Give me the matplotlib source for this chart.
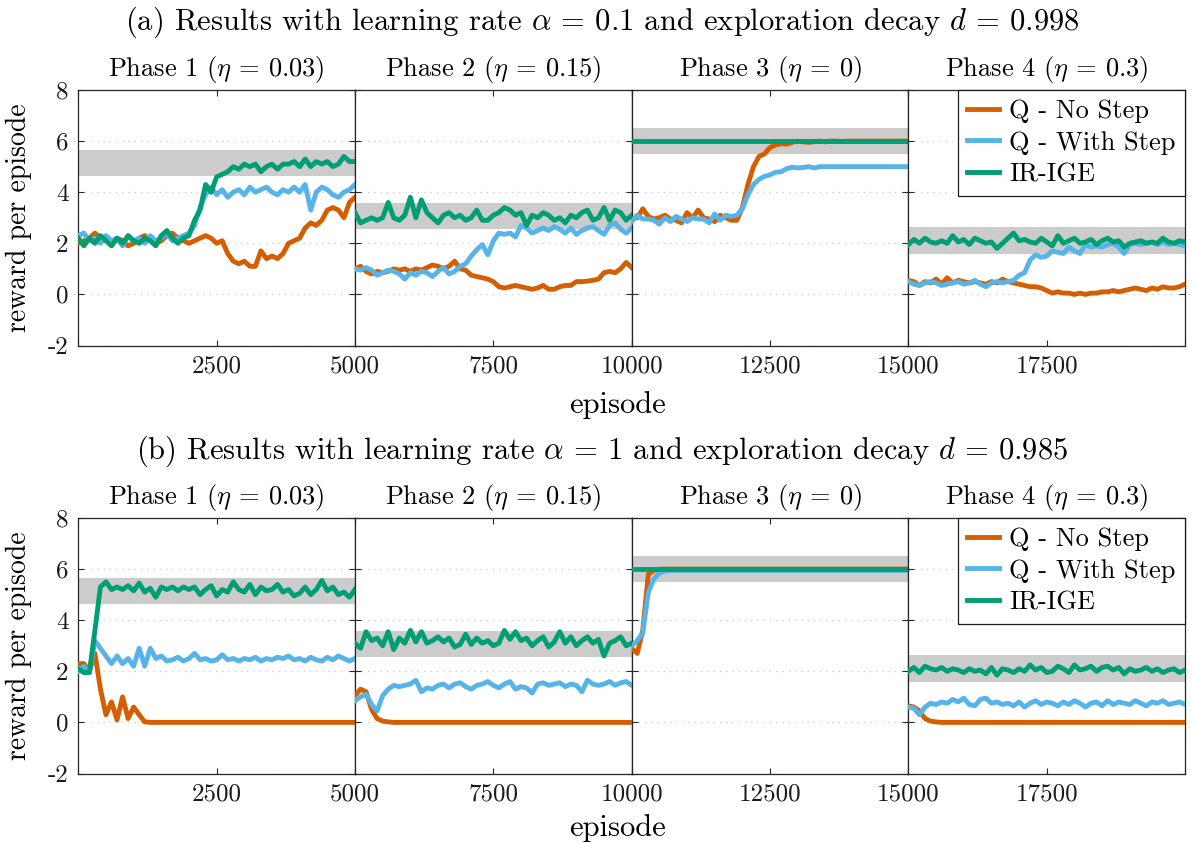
import numpy as np
import matplotlib.pyplot as plt

plt.rcParams['font.family'] = 'serif'
plt.rcParams['font.serif'] = ['cmr10']
plt.rcParams['mathtext.fontset'] = 'cm'
plt.rcParams['axes.unicode_minus'] = False
plt.rcParams['axes.formatter.use_mathtext'] = False

colors = ('#D55E00', '#56B4E9', '#009E73')
labels = ['Q - No Step', 'Q - With Step', 'IR-IGE']
phase_titles = [r'Phase 1 ($\eta$ = 0.03)', r'Phase 2 ($\eta$ = 0.15)',
                r'Phase 3 ($\eta$ = 0)', r'Phase 4 ($\eta$ = 0.3)']
row_titles = [r'(a) Results with learning rate $\alpha$ = 0.1 and exploration decay $d$ = 0.998',
              r'(b) Results with learning rate $\alpha$ = 1 and exploration decay $d$ = 0.985']
band_low = [4.65, 2.57, 5.5, 1.6]
band_high = [5.67, 3.59, 6.5, 2.62]
phase_len = 5000
step = 100  # episodes between samples

# ---- (a) alpha = 0.1, d = 0.998 ----
a_nostep = [
    [2.0, 2.1, 2.2, 2.4, 2.2, 2.1, 2.0, 2.2, 2.1, 1.9, 2.0, 2.2, 2.3, 2.1, 2.0, 2.1, 2.3, 2.4, 2.2, 2.1,
     2.0, 2.1, 2.2, 2.3, 2.2, 2.0, 2.1, 1.6, 1.3, 1.2, 1.3, 1.1, 1.1, 1.7, 1.4, 1.5, 1.4, 1.6, 2.0, 2.1,
     2.2, 2.6, 2.8, 2.7, 2.9, 3.3, 3.4, 3.3, 3.0, 3.6, 3.8],
    [1.0, 1.1, 0.9, 0.8, 0.9, 0.85, 0.9, 1.0, 0.95, 1.0, 0.9, 1.0, 0.95, 1.05, 1.15, 1.1, 1.0, 1.1, 1.3, 1.0,
     0.95, 0.75, 0.7, 0.65, 0.6, 0.5, 0.3, 0.25, 0.3, 0.35, 0.3, 0.25, 0.2, 0.25, 0.35, 0.2, 0.2, 0.3, 0.35, 0.35,
     0.5, 0.5, 0.52, 0.55, 0.6, 0.85, 0.9, 0.85, 1.0, 1.25, 1.05],
    [2.95, 3.0, 3.35, 3.05, 2.95, 3.0, 3.1, 2.95, 2.9, 2.8, 3.2, 3.0, 3.3, 3.0, 2.95, 2.85, 3.1, 3.0, 2.9, 2.9,
     3.4, 4.3, 5.0, 5.4, 5.5, 5.75, 5.85, 5.9, 5.88, 5.95, 6.0, 5.97, 5.95, 5.98, 6.0, 5.97, 6.0, 6.0, 5.98, 6.0,
     6.0, 6.0, 6.0, 6.0, 6.0, 6.0, 6.0, 6.0, 6.0, 6.0, 6.0],
    [0.55, 0.5, 0.35, 0.5, 0.45, 0.6, 0.4, 0.65, 0.45, 0.55, 0.5, 0.45, 0.5, 0.45, 0.4, 0.5, 0.45, 0.6, 0.5, 0.45,
     0.4, 0.35, 0.3, 0.3, 0.25, 0.15, 0.05, 0.1, 0.05, 0.05, 0.0, 0.05, 0.0, 0.05, 0.05, 0.1, 0.1, 0.15, 0.1, 0.15,
     0.2, 0.25, 0.2, 0.15, 0.25, 0.2, 0.3, 0.25, 0.25, 0.3, 0.4],
]
a_step = [
    [2.3, 2.4, 2.1, 2.2, 2.0, 2.3, 2.1, 2.2, 1.9, 2.3, 2.1, 2.2, 2.0, 2.3, 2.1, 2.2, 2.4, 2.1, 2.2, 2.3,
     2.4, 2.7, 3.4, 3.9, 4.2, 3.9, 4.1, 3.8, 4.0, 4.1, 3.9, 4.2, 4.0, 4.1, 4.2, 4.0, 3.9, 4.1, 4.0, 4.2,
     4.0, 4.3, 3.3, 4.0, 4.2, 4.1, 3.9, 3.8, 4.0, 4.1, 4.3],
    [1.0, 0.95, 1.05, 0.95, 0.75, 0.85, 0.95, 0.9, 0.8, 0.6, 0.85, 0.75, 0.9, 0.85, 0.7, 0.9, 1.05, 0.8, 0.9, 1.1,
     1.2, 1.5, 1.75, 1.95, 1.55, 2.1, 2.4, 2.35, 2.4, 2.25, 2.7, 2.6, 2.4, 2.5, 2.6, 2.5, 2.65, 2.55, 2.4, 2.6,
     2.35, 2.5, 2.6, 2.65, 2.5, 2.35, 2.7, 2.8, 2.55, 2.4, 2.6],
    [2.85, 3.1, 2.95, 2.95, 2.9, 2.75, 3.0, 2.85, 3.05, 2.95, 2.85, 3.0, 2.95, 2.95, 2.8, 3.15, 2.9, 3.1, 3.05, 3.1,
     3.35, 3.9, 4.3, 4.5, 4.62, 4.68, 4.78, 4.8, 4.92, 4.98, 4.95, 4.97, 5.0, 4.95, 5.0, 5.0, 5.0, 5.0, 5.0, 5.0,
     5.0, 5.0, 5.0, 5.0, 5.0, 5.0, 5.0, 5.0, 5.0, 5.0, 5.0],
    [0.5, 0.4, 0.35, 0.45, 0.5, 0.45, 0.35, 0.4, 0.45, 0.5, 0.4, 0.45, 0.55, 0.4, 0.3, 0.45, 0.5, 0.45, 0.5, 0.55,
     0.75, 0.85, 1.35, 1.55, 1.45, 1.5, 1.7, 1.65, 1.6, 1.85, 1.7, 1.6, 1.95, 1.85, 1.9, 1.85, 1.95, 2.0, 1.85, 1.6,
     1.95, 2.0, 1.95, 2.0, 2.05, 1.95, 2.05, 1.95, 2.0, 1.95, 1.9],
]
a_irige = [
    [2.2, 1.9, 2.2, 2.0, 2.3, 2.1, 1.9, 2.2, 2.0, 2.3, 2.1, 2.0, 2.2, 2.1, 1.9, 2.3, 2.5, 2.2, 2.0, 2.2,
     2.3, 2.9, 3.3, 4.3, 4.0, 4.6, 4.7, 4.8, 5.0, 4.9, 5.1, 5.0, 5.1, 4.8, 5.0, 5.1, 4.9, 5.1, 5.1, 5.2,
     5.0, 5.3, 5.0, 5.2, 5.1, 5.2, 5.0, 5.1, 5.4, 5.2, 5.2],
    [3.2, 2.8, 2.9, 3.0, 2.9, 3.0, 3.6, 3.0, 2.9, 3.1, 3.8, 3.0, 3.7, 3.2, 3.0, 2.8, 3.1, 3.2, 3.0, 3.1,
     2.9, 3.0, 3.3, 2.9, 2.9, 3.1, 3.2, 3.4, 3.3, 3.1, 3.2, 2.7, 3.1, 3.0, 3.2, 3.1, 2.9, 3.0, 2.8, 3.1,
     3.0, 3.2, 3.3, 2.9, 3.0, 3.4, 2.9, 3.3, 3.2, 2.9, 3.1],
    [6.0, 6.0, 6.0, 6.0, 6.0, 6.0, 6.0, 6.0, 6.0, 6.0, 6.0, 6.0, 6.0, 6.0, 6.0, 6.0, 6.0, 6.0, 6.0, 6.0,
     6.0, 6.0, 6.0, 6.0, 6.0, 6.0, 6.0, 6.0, 6.0, 6.0, 6.0, 6.0, 6.0, 6.0, 6.0, 6.0, 6.0, 6.0, 6.0, 6.0,
     6.0, 6.0, 6.0, 6.0, 6.0, 6.0, 6.0, 6.0, 6.0, 6.0, 6.0],
    [1.95, 2.15, 2.0, 2.2, 2.05, 2.0, 2.1, 2.0, 2.3, 2.05, 2.15, 1.95, 2.2, 2.1, 2.0, 2.05, 1.8, 2.0, 2.2, 2.4,
     2.1, 2.15, 2.05, 2.0, 2.2, 2.05, 1.9, 2.3, 2.0, 2.1, 2.2, 2.0, 2.05, 2.15, 1.95, 2.1, 2.2, 2.05, 2.1, 1.85,
     2.0, 2.05, 2.1, 2.0, 2.05, 2.0, 2.2, 2.05, 2.0, 2.1, 2.05],
]

# ---- (b) alpha = 1, d = 0.985 ----
b_nostep = [
    [2.3, 2.3, 2.0, 2.7, 1.3, 0.3, 0.8, 0.1, 1.0, 0.15, 0.6, 0.3, 0.02, 0.0, 0.0, 0.0, 0.0, 0.0, 0.0, 0.0,
     0.0, 0.0, 0.0, 0.0, 0.0, 0.0, 0.0, 0.0, 0.0, 0.0, 0.0, 0.0, 0.0, 0.0, 0.0, 0.0, 0.0, 0.0, 0.0, 0.0,
     0.0, 0.0, 0.0, 0.0, 0.0, 0.0, 0.0, 0.0, 0.0, 0.0, 0.0],
    [1.05, 1.3, 1.2, 0.5, 0.15, 0.05, 0.02, 0.0, 0.0, 0.0, 0.0, 0.0, 0.0, 0.0, 0.0, 0.0, 0.0, 0.0, 0.0, 0.0,
     0.0, 0.0, 0.0, 0.0, 0.0, 0.0, 0.0, 0.0, 0.0, 0.0, 0.0, 0.0, 0.0, 0.0, 0.0, 0.0, 0.0, 0.0, 0.0, 0.0,
     0.0, 0.0, 0.0, 0.0, 0.0, 0.0, 0.0, 0.0, 0.0, 0.0, 0.0],
    [2.9, 2.7, 3.6, 5.8, 5.95, 6.0, 6.0, 6.0, 6.0, 6.0, 6.0, 6.0, 6.0, 6.0, 6.0, 6.0, 6.0, 6.0, 6.0, 6.0,
     6.0, 6.0, 6.0, 6.0, 6.0, 6.0, 6.0, 6.0, 6.0, 6.0, 6.0, 6.0, 6.0, 6.0, 6.0, 6.0, 6.0, 6.0, 6.0, 6.0,
     6.0, 6.0, 6.0, 6.0, 6.0, 6.0, 6.0, 6.0, 6.0, 6.0, 6.0],
    [0.65, 0.6, 0.45, 0.15, 0.05, 0.02, 0.0, 0.0, 0.0, 0.0, 0.0, 0.0, 0.0, 0.0, 0.0, 0.0, 0.0, 0.0, 0.0, 0.0,
     0.0, 0.0, 0.0, 0.0, 0.0, 0.0, 0.0, 0.0, 0.0, 0.0, 0.0, 0.0, 0.0, 0.0, 0.0, 0.0, 0.0, 0.0, 0.0, 0.0,
     0.0, 0.0, 0.0, 0.0, 0.0, 0.0, 0.0, 0.0, 0.0, 0.0, 0.0],
]
b_step = [
    [2.0, 2.2, 1.95, 3.2, 2.9, 2.6, 2.3, 2.6, 2.3, 2.5, 2.2, 2.9, 2.2, 2.9, 2.5, 2.6, 2.4, 2.45, 2.55, 2.4,
     2.5, 2.7, 2.45, 2.5, 2.4, 2.45, 2.65, 2.45, 2.5, 2.4, 2.5, 2.45, 2.55, 2.4, 2.5, 2.45, 2.55, 2.5, 2.6, 2.45,
     2.5, 2.4, 2.55, 2.45, 2.4, 2.55, 2.45, 2.6, 2.5, 2.4, 2.5],
    [0.85, 1.0, 1.1, 0.7, 0.45, 1.05, 1.3, 1.45, 1.4, 1.45, 1.5, 1.65, 1.2, 1.35, 1.3, 1.45, 1.5, 1.35, 1.5, 1.55,
     1.4, 1.3, 1.45, 1.5, 1.6, 1.45, 1.35, 1.5, 1.6, 1.3, 1.4, 1.35, 1.15, 1.5, 1.55, 1.45, 1.5, 1.55, 1.4, 1.5,
     1.45, 1.2, 1.65, 1.5, 1.45, 1.5, 1.6, 1.45, 1.55, 1.6, 1.45],
    [3.0, 3.2, 3.5, 5.1, 5.6, 5.85, 5.92, 5.95, 5.95, 5.95, 5.95, 5.95, 5.95, 5.95, 5.95, 5.95, 5.95, 5.95, 5.95, 5.95,
     5.95, 5.95, 5.95, 5.95, 5.95, 5.95, 5.95, 5.95, 5.95, 5.95, 5.95, 5.95, 5.95, 5.95, 5.95, 5.95, 5.95, 5.95, 5.95, 5.95,
     5.95, 5.95, 5.95, 5.95, 5.95, 5.95, 5.95, 5.95, 5.95, 5.95, 5.95],
    [0.6, 0.55, 0.3, 0.6, 0.75, 0.7, 0.8, 0.75, 0.9, 0.8, 0.95, 0.7, 0.65, 0.9, 0.95, 0.75, 0.8, 0.7, 0.75, 0.65,
     0.8, 0.6, 0.75, 0.85, 0.7, 0.8, 0.75, 0.65, 0.8, 0.7, 0.85, 0.75, 0.6, 0.75, 0.8, 0.65, 0.85, 0.7, 0.8, 0.75,
     0.7, 0.85, 0.75, 0.65, 0.8, 0.75, 0.85, 0.7, 0.75, 0.8, 0.7],
]
b_irige = [
    [2.1, 1.95, 1.95, 3.6, 5.3, 5.5, 5.2, 5.3, 5.2, 5.35, 5.15, 5.45, 5.1, 5.25, 4.9, 5.3, 5.2, 5.3, 5.15, 5.3,
     5.2, 5.3, 5.0, 5.2, 5.35, 4.95, 5.2, 5.1, 5.5, 5.2, 5.1, 5.4, 5.0, 5.3, 5.15, 5.2, 5.4, 5.1, 5.2, 4.95,
     5.05, 5.3, 5.0, 5.2, 5.55, 5.15, 5.3, 5.0, 5.1, 4.9, 5.2],
    [3.1, 2.9, 3.55, 3.2, 3.3, 3.0, 3.55, 2.85, 3.3, 3.1, 3.6, 3.15, 3.55, 3.1, 3.2, 3.35, 3.15, 3.3, 2.95, 3.05,
     3.45, 3.05, 3.3, 3.1, 3.2, 3.0, 3.1, 3.6, 3.25, 3.55, 3.2, 3.3, 3.0, 3.2, 3.35, 2.95, 3.15, 3.55, 3.1, 3.35,
     3.0, 3.2, 3.35, 3.1, 3.25, 2.6, 3.1, 3.2, 3.35, 3.0, 3.1],
    [6.0, 6.0, 6.0, 6.0, 6.0, 6.0, 6.0, 6.0, 6.0, 6.0, 6.0, 6.0, 6.0, 6.0, 6.0, 6.0, 6.0, 6.0, 6.0, 6.0,
     6.0, 6.0, 6.0, 6.0, 6.0, 6.0, 6.0, 6.0, 6.0, 6.0, 6.0, 6.0, 6.0, 6.0, 6.0, 6.0, 6.0, 6.0, 6.0, 6.0,
     6.0, 6.0, 6.0, 6.0, 6.0, 6.0, 6.0, 6.0, 6.0, 6.0, 6.0],
    [2.0, 2.15, 1.95, 2.2, 2.1, 2.05, 2.15, 2.0, 2.1, 2.05, 1.95, 2.1, 2.0, 2.05, 1.9, 2.15, 1.85, 2.1, 2.05, 1.95,
     2.1, 2.0, 2.25, 2.05, 2.15, 1.95, 2.0, 2.2, 2.1, 1.95, 2.25, 2.05, 2.1, 2.2, 2.0, 2.15, 2.2, 2.05, 2.15, 1.9,
     2.1, 2.0, 2.05, 2.15, 2.0, 2.1, 1.95, 2.05, 2.1, 1.95, 2.05],
]

rows = [(a_nostep, a_step, a_irige), (b_nostep, b_step, b_irige)]

fig = plt.figure(figsize=(11.92, 8.43), dpi=100)
W, H = 1192.0, 843.0
ax_left = 78.3
ax_w = 276.7
ax_h = 255.5
row_top = [90.0, 518.0]
title_y = [22, 451]
xlabel_y = [405, 828]
axcol = '#262626'

for r in range(2):
    bottom = 1 - (row_top[r] + ax_h) / H
    for p in range(4):
        ax = fig.add_axes([(ax_left + p * ax_w) / W, bottom, ax_w / W, ax_h / H])
        x0 = p * phase_len
        ep = x0 + np.arange(0, phase_len + 1, step)
        ax.axhspan(band_low[p], band_high[p], color='#cccccc', lw=0, zorder=1)
        for s in range(3):
            ax.plot(ep, rows[r][s][p], color=colors[s], lw=3.5, label=labels[s],
                    solid_joinstyle='round', zorder=3 + s)
        ax.set_xlim(x0, x0 + phase_len)
        ax.set_ylim(-2, 8)
        ax.set_yticks([-2, 0, 2, 4, 6, 8])
        xt = [x0, x0 + 2500, x0 + 5000]
        xl = ['', str(x0 + 2500), str(x0 + 5000) if p < 3 else '']
        ax.set_xticks(xt)
        ax.set_xticklabels(xl)
        ax.tick_params(direction='in', top=True, right=True, length=4, width=0.8,
                       labelsize=18, colors=axcol, labelcolor='#1a1a1a', pad=7)
        if p > 0:
            ax.tick_params(labelleft=False)
        ax.yaxis.grid(True, color='#c8c8c8', linestyle=(0, (1, 4)), lw=0.9)
        ax.set_axisbelow(True)
        for sp in ax.spines.values():
            sp.set_color(axcol)
            sp.set_linewidth(0.9)
        ax.set_title(phase_titles[p], fontsize=19, pad=10)
        if p == 3:
            leg = ax.legend(loc='upper right', fontsize=19, borderaxespad=0, fancybox=False,
                            edgecolor='#1a1a1a', framealpha=1, handlelength=1.2,
                            handletextpad=0.4, borderpad=0.35, labelspacing=0.3)
            leg.get_frame().set_linewidth(0.9)
    fig.text(602 / W, 1 - title_y[r] / H, row_titles[r], ha='center', va='center', fontsize=22)
    fig.text(618 / W, 1 - xlabel_y[r] / H, 'episode', ha='center', va='center', fontsize=22)
    fig.text(19 / W, 1 - (row_top[r] + ax_h / 2) / H, 'reward per episode', ha='center', va='center',
             rotation=90, fontsize=20)

fig.savefig('out.png', dpi=100)
